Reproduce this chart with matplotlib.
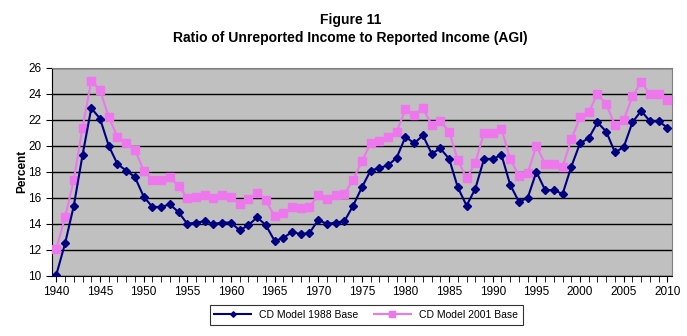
import matplotlib.pyplot as plt
import numpy as np

plt.rcParams['font.family'] = ['Liberation Sans', 'DejaVu Sans']

years = list(range(1940, 2011))

base_1988 = [10.1, 12.5, 15.4, 19.3, 22.9, 22.1, 20.0, 18.6, 18.1, 17.6,
             16.1, 15.3, 15.3, 15.5, 14.9, 14.0, 14.1, 14.2, 14.0, 14.1,
             14.1, 13.5, 13.9, 14.5, 13.9, 12.7, 12.9, 13.4, 13.2, 13.3,
             14.3, 14.0, 14.1, 14.2, 15.4, 16.8, 18.1, 18.3, 18.5, 19.1,
             20.7, 20.2, 20.8, 19.4, 19.8, 19.0, 16.8, 15.4, 16.7, 19.0,
             19.0, 19.3, 17.0, 15.7, 16.0, 18.0, 16.6, 16.6, 16.3, 18.4,
             20.2, 20.6, 21.8, 21.1, 19.5, 19.9, 21.8, 22.7, 21.9, 21.9,
             21.4]

base_2001 = [12.1, 14.5, 17.4, 21.4, 25.0, 24.3, 22.2, 20.7, 20.2, 19.7,
             18.1, 17.4, 17.4, 17.6, 16.9, 16.0, 16.1, 16.2, 16.0, 16.2,
             16.1, 15.5, 15.9, 16.4, 15.8, 14.6, 14.8, 15.3, 15.2, 15.3,
             16.2, 15.9, 16.2, 16.3, 17.4, 18.8, 20.2, 20.4, 20.7, 21.1,
             22.8, 22.4, 22.9, 21.6, 21.9, 21.1, 18.9, 17.5, 18.7, 21.0,
             21.0, 21.3, 19.0, 17.7, 17.9, 20.0, 18.6, 18.6, 18.4, 20.5,
             22.2, 22.6, 24.0, 23.2, 21.6, 22.0, 23.8, 24.9, 24.0, 24.0,
             23.5]

fig = plt.figure(figsize=(6.87, 3.36), dpi=100)
ax = fig.add_axes([0.0757, 0.179, 0.902, 0.619])
ax.set_facecolor('#c0c0c0')

ax.plot(years, base_2001, color='#ee77ee', marker='s', markersize=6,
        linewidth=1.5, label='CD Model 2001 Base', zorder=3)
ax.plot(years, base_1988, color='#000080', marker='D', markersize=4,
        linewidth=1.5, label='CD Model 1988 Base', zorder=4)

ax.set_xlim(1939.5, 2010.5)
ax.set_ylim(10, 26)
ax.set_yticks(np.arange(10, 27, 2))
ax.set_xticks(np.arange(1940, 2011, 5))
ax.set_xticks(np.arange(1940, 2011, 1), minor=True)
ax.yaxis.grid(True, color='black', linewidth=1)
ax.set_axisbelow(True)
ax.tick_params(axis='both', labelsize=8.5, length=4, direction='out')
ax.tick_params(axis='x', which='minor', length=4)
for s in ax.spines.values():
    s.set_color('#808080')
ax.spines['left'].set_color('black')
ax.spines['bottom'].set_color('black')

ax.set_ylabel('Percent', fontsize=8.5, fontweight='bold', labelpad=0)

fig.text(0.51, 0.93, 'Figure 11', ha='center', fontsize=10, fontweight='bold')
fig.text(0.51, 0.875, 'Ratio of Unreported Income to Reported Income (AGI)',
         ha='center', fontsize=10, fontweight='bold')

h, l = ax.get_legend_handles_labels()
leg = fig.legend(h[::-1], l[::-1], loc='center', bbox_to_anchor=(0.533, 0.063),
                 ncol=2, fontsize=7.5, frameon=True, fancybox=False,
                 edgecolor='black', borderpad=0.45, handlelength=3.5,
                 columnspacing=1.5, markerscale=0.7)
leg.get_frame().set_linewidth(0.8)

fig.savefig('out.png', dpi=100)
